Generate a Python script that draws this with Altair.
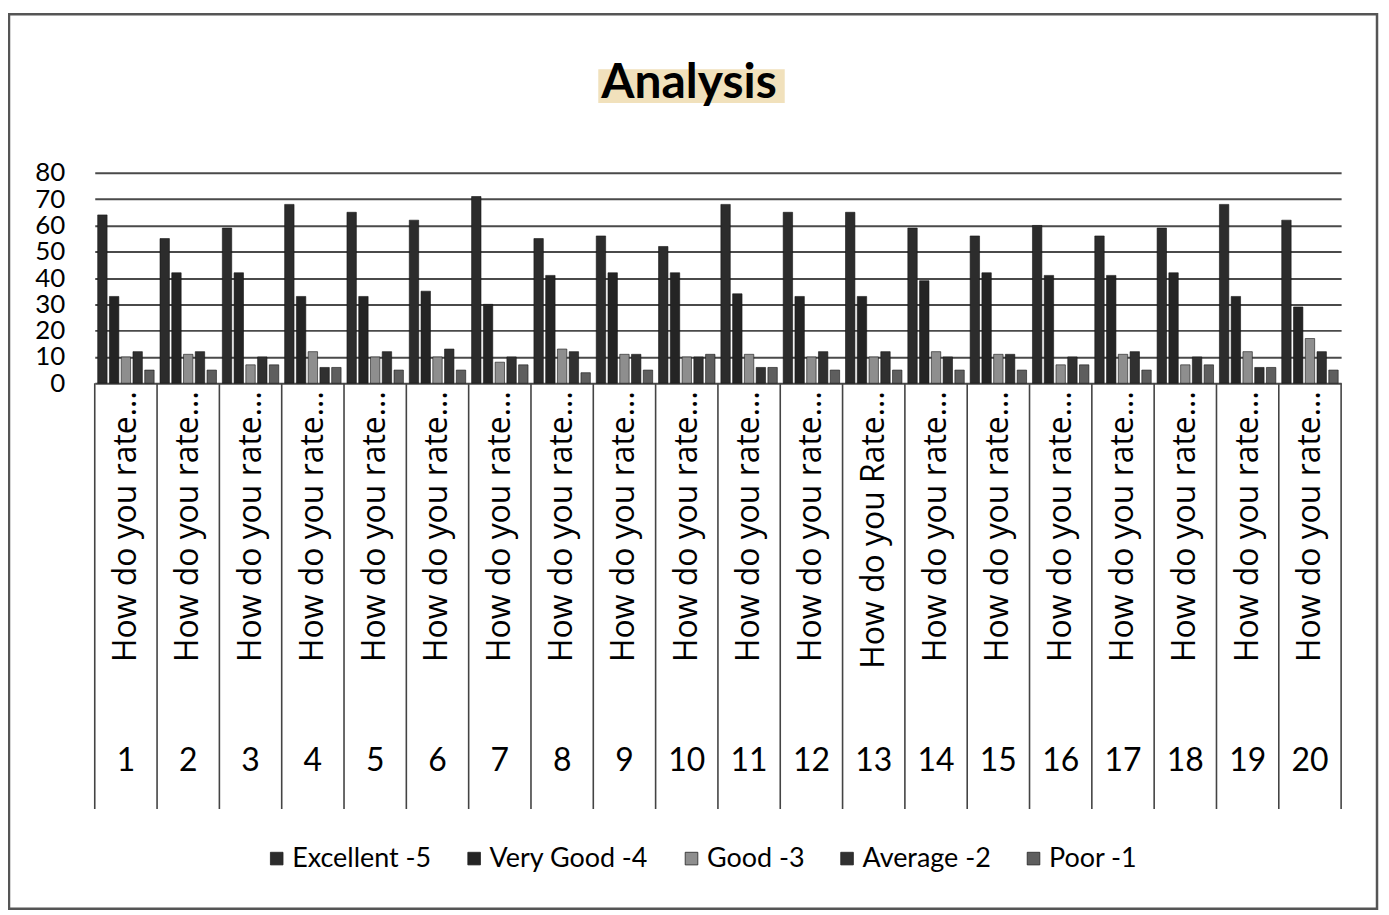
import altair as alt
import pandas as pd

# ---- data ----
categories = [str(i) for i in range(1, 21)]
questions = ["How do you rate..."] * 12 + ["How do you Rate..."] + ["How do you rate..."] * 7
series = ["Excellent -5", "Very Good -4", "Good -3", "Average -2", "Poor -1"]
excellent = [64, 55, 59, 68, 65, 62, 71, 55, 56, 52, 68, 65, 65, 59, 56, 60, 56, 59, 68, 62]
very_good = [33, 42, 42, 33, 33, 35, 30, 41, 42, 42, 34, 33, 33, 39, 42, 41, 41, 42, 33, 29]
good = [10, 11, 7, 12, 10, 10, 8, 13, 11, 10, 11, 10, 10, 12, 11, 7, 11, 7, 12, 17]
average = [12, 12, 10, 6, 12, 13, 10, 12, 11, 10, 6, 12, 12, 10, 11, 10, 12, 10, 6, 12]
poor = [5, 5, 7, 6, 5, 5, 7, 4, 5, 11, 6, 5, 5, 5, 5, 7, 5, 7, 6, 5]
y_ticks = [0, 10, 20, 30, 40, 50, 60, 70, 80]
colors = ["#2c2c2c", "#242424", "#8e8e8e", "#303030", "#5e5e5e"]

rows = []
for s, vals in zip(series, [excellent, very_good, good, average, poor]):
    for c, v in zip(categories, vals):
        rows.append({"q": c, "series": s, "value": v})
df = pd.DataFrame(rows)
cats = pd.DataFrame({"q": categories, "question": questions})
one = pd.DataFrame({"k": [0]})

FONT = "Lato, Open Sans, sans-serif"

xenc = alt.X("q:N", sort=categories, scale=alt.Scale(paddingInner=0, paddingOuter=0), axis=None)

frame = alt.Chart(one).mark_rect(fill=None, stroke="#555555", strokeWidth=2.5).encode(
    x=alt.value(-86), x2=alt.value(1286), y=alt.value(-159), y2=alt.value(738)
)

highlight = alt.Chart(one).mark_rect(color="#ecd7a6", opacity=0.75).encode(
    x=alt.value(505), x2=alt.value(692), y=alt.value(-104), y2=alt.value(-70)
)

title = alt.Chart(one).mark_text(
    text="Analysis", font=FONT, fontSize=48, fontWeight="bold", color="black",
    align="center", baseline="alphabetic"
).encode(x=alt.value(596), y=alt.value(-75))

bars = alt.Chart(df).mark_bar(stroke="#151515", strokeWidth=0.6).encode(
    x=xenc,
    xOffset=alt.XOffset("series:N", sort=series,
                        scale=alt.Scale(paddingInner=0.2, paddingOuter=0.25)),
    y=alt.Y("value:Q",
            scale=alt.Scale(domain=[0, 80], nice=False),
            axis=alt.Axis(values=y_ticks, grid=True, gridColor="#4a4a4a", gridWidth=2,
                          domain=False, ticks=False, labelFont=FONT, labelFontSize=26,
                          labelColor="black", labelPadding=30, labelOverlap=False,
                          title=None)),
    color=alt.Color("series:N", sort=series,
                    scale=alt.Scale(domain=series, range=colors),
                    legend=alt.Legend(orient="none", legendX=169, legendY=674,
                                      direction="horizontal", title=None,
                                      symbolType="square", symbolSize=160,
                                      symbolStrokeWidth=0.8, symbolStrokeColor="#222222",
                                      labelFont=FONT, labelFontSize=27, labelLimit=0,
                                      labelColor="black", labelOffset=2,
                                      columnPadding=29)),
)

separators = alt.Chart(cats).mark_rule(color="#444444", strokeWidth=1.6).encode(
    x=alt.X("q:N", sort=categories, bandPosition=0),
    y=alt.value(211), y2=alt.value(638)
)
right_sep = alt.Chart(one).mark_rule(color="#444444", strokeWidth=1.6).encode(
    x=alt.value(1250), y=alt.value(211), y2=alt.value(638)
)

qlabels = alt.Chart(cats).mark_text(
    angle=270, align="right", baseline="middle", font="Open Sans",
    fontSize=32, color="black"
).encode(x=alt.X("q:N", sort=categories), y=alt.value(219), text="question:N")

numbers = alt.Chart(cats).mark_text(
    baseline="middle", align="center", font=FONT, fontSize=32, color="black"
).encode(x=alt.X("q:N", sort=categories), y=alt.value(590), text="q:N")

chart = alt.layer(
    frame, highlight, title, bars, separators, right_sep, qlabels, numbers
).properties(
    width=1250, height=211,
    autosize=alt.AutoSizeParams(type="none"),
    padding={"left": 87, "top": 164, "right": 40, "bottom": 530},
    background="white",
).configure_view(stroke=None)

chart.save("out.html", embed_options={"renderer": "svg", "actions": False})
